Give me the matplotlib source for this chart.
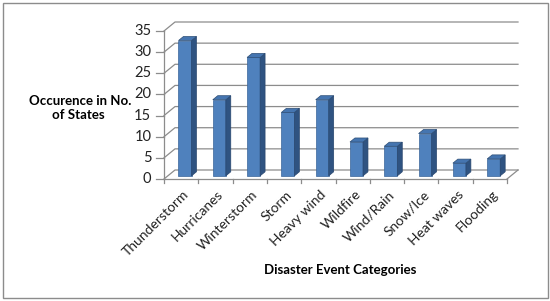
import matplotlib.pyplot as plt
from matplotlib.patches import Rectangle, Polygon

plt.rcParams['font.family'] = ['Lato', 'DejaVu Sans']

categories = ['Thunderstorm', 'Hurricanes', 'Winterstorm', 'Storm', 'Heavy wind',
              'Wildfire', 'Wind/Rain', 'Snow/Ice', 'Heat waves', 'Flooding']
values = [32, 18, 28, 15, 18, 8, 7, 10, 3, 4]
yticks = [0, 5, 10, 15, 20, 25, 30, 35]

W, H = 550, 301
fig = plt.figure(figsize=(W / 100, H / 100), dpi=100)
# axes maps the front plane of the 3d box
ax = fig.add_axes([164 / W, (H - 179) / H, 343 / W, 148 / H])
ax.set_xlim(-0.5, len(categories) - 0.5)
ax.set_ylim(0, 35)
ax.axis('off')

# depth offset (full depth) in data units
ddx = 11 / 34.3
ddy = 9 / (148 / 35)
grid = '#8c8c8c'


def pt(x, y, d):
    return (x + ddx * d, y + ddy * d)


x0 = -0.5
x1 = len(categories) - 0.5
for v in yticks:
    a = pt(x0, v, 0)
    b = pt(x0, v, 1)
    c = pt(x1, v, 1)
    ax.plot([a[0], b[0], c[0]], [a[1], b[1], c[1]], color=grid, lw=0.9,
            clip_on=False, zorder=1)
    # tick mark on front axis
    ax.plot([x0 - 0.22, x0], [v, v], color=grid, lw=0.9, clip_on=False)
    ax.text(x0 - 0.37, v, str(v), ha='right', va='center', fontsize=10.5,
            color='#222222')

# front axis and floor
ax.plot([x0, x0], [0, 35], color=grid, lw=0.9, clip_on=False)
ax.plot([x0, x1], [0, 0], color=grid, lw=0.9, clip_on=False)
e = pt(x1, 0, 1)
ax.plot([x1, e[0]], [0, e[1]], color=grid, lw=0.9, clip_on=False)
for i in range(len(categories) + 1):
    ax.plot([i - 0.5, i - 0.5], [0, -0.9], color=grid, lw=0.9, clip_on=False)

# bars
w = 0.38
d0, d1 = 0.35, 0.8
for i, v in enumerate(values):
    xl, xr = i - w / 2, i + w / 2
    fl = pt(xl, 0, d0)
    ax.add_patch(Rectangle(fl, w, v, facecolor='#4F81BD', edgecolor='#3A659A',
                           lw=0.5, zorder=3))
    side = [pt(xr, 0, d0), pt(xr, 0, d1), pt(xr, v, d1), pt(xr, v, d0)]
    ax.add_patch(Polygon(side, closed=True, facecolor='#2F5381',
                         edgecolor='#28466E', lw=0.5, zorder=3))
    top = [pt(xl, v, d0), pt(xr, v, d0), pt(xr, v, d1), pt(xl, v, d1)]
    ax.add_patch(Polygon(top, closed=True, facecolor='#4575B0',
                         edgecolor='#2C4D75', lw=0.5, zorder=3))
    ax.text(i + 0.05, -2.2, categories[i], rotation=45, ha='right', va='top',
            rotation_mode='anchor', fontsize=10, color='#222222')

fig.text(80 / W, 1 - 101 / H, 'Occurence in No.', ha='center', va='center',
         fontsize=9.5, fontweight='bold')
fig.text(78 / W, 1 - 115 / H, 'of States', ha='center', va='center',
         fontsize=9.5, fontweight='bold')
fig.text(340 / W, 1 - 270 / H, 'Disaster Event Categories', ha='center',
         va='center', fontsize=9.5, fontweight='bold')

fig.add_artist(Rectangle((3 / W, 3 / H), 545 / W, 295 / H, transform=fig.transFigure,
                         fill=False, edgecolor='#8c8c8c', lw=1))

fig.savefig('out.png', dpi=100)
